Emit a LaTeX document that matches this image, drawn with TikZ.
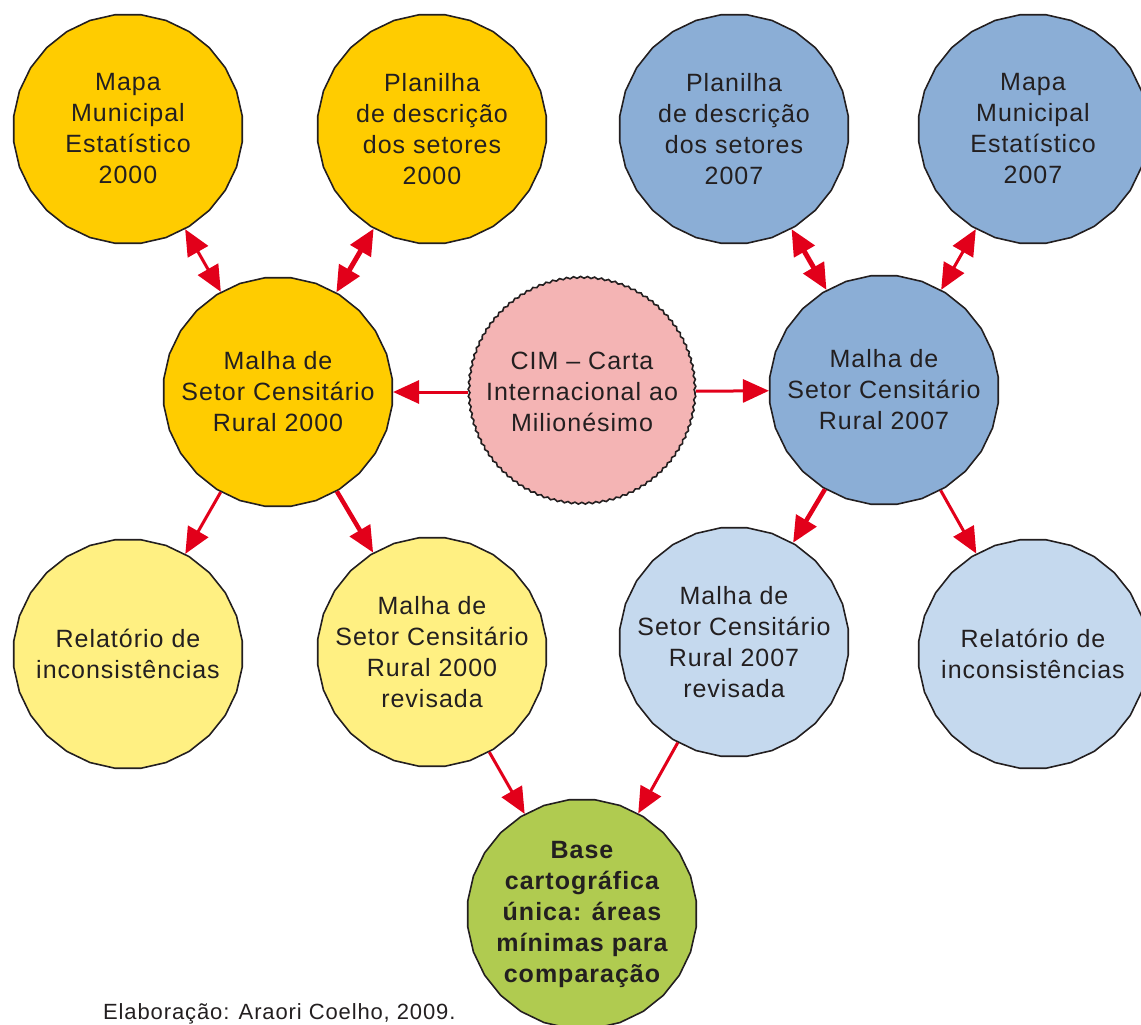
\documentclass[tikz,border=0pt]{standalone}
\usepackage{fontspec}
\setmainfont{Liberation Sans}[LetterSpace=4]
\usetikzlibrary{arrows.meta, shapes.geometric, decorations.pathmorphing}
\definecolor{ouro}{RGB}{255,204,0}
\definecolor{amarelo}{RGB}{255,240,130}
\definecolor{azul}{RGB}{139,174,214}
\definecolor{azulclaro}{RGB}{197,217,238}
\definecolor{rosa}{RGB}{244,180,180}
\definecolor{verde}{RGB}{176,203,80}
\definecolor{vermelho}{RGB}{226,0,26}
\definecolor{texto}{RGB}{35,31,32}

\tikzset{
    rotulo/.style={align=center, text=texto, font=\fontsize{25}{31}\selectfont},
    bola/.style={regular polygon, regular polygon sides=28, minimum size=230pt, inner sep=0pt,
        draw=texto, line width=1.6pt, label={[rotulo]center:#1}},
    ponta/.tip={Triangle[length=26pt,width=23pt]},
    seta/.style={draw=vermelho, line width=3pt, -ponta},
    dupla/.style={seta, ponta-ponta},
}

\begin{document}
\begin{tikzpicture}[x=1pt,y=-1pt]
        \useasboundingbox (0,0) rectangle (1141,1025);
        \node[bola={Mapa\\Municipal\\Estatístico\\2000}, fill=ouro] (mapaA) at (128,129) {};
        \node[bola={Planilha\\de descrição\\dos setores\\2000}, fill=ouro] (planA) at (432,129) {};
        \node[bola={Planilha\\de descrição\\dos setores\\2007}, fill=azul] (planB) at (734,129) {};
        \node[bola={Mapa\\Municipal\\Estatístico\\2007}, fill=azul] (mapaB) at (1033,129) {};
        \node[bola={Malha de\\Setor Censitário\\Rural 2000}, fill=ouro] (malhaA) at (278,392) {};
        \node[circle, minimum size=226pt, inner sep=0pt, draw=texto, line width=1.6pt, fill=rosa,
            decorate, decoration={snake, amplitude=0.9pt, segment length=7pt},
            label={[rotulo]center:CIM -- Carta\\Internacional ao\\Milionésimo}]
            (cim) at (582,392) {};
        \node[bola={Malha de\\Setor Censitário\\Rural 2007}, fill=azul] (malhaB) at (884,390) {};
        \node[bola={Relatório de\\inconsistências}, fill=amarelo] (relA) at (128,654) {};
        \node[bola={Malha de\\Setor Censitário\\Rural 2000\\revisada}, fill=amarelo] (revA) at (432,652) {};
        \node[bola={Malha de\\Setor Censitário\\Rural 2007\\revisada}, fill=azulclaro] (revB) at (734,642) {};
        \node[bola={Relatório de\\inconsistências}, fill=azulclaro] (relB) at (1033,654) {};
        \node[bola={\bfseries Base\\\bfseries cartográfica\\\bfseries única: áreas\\\bfseries mínimas para\\\bfseries comparação},
            fill=verde] (base) at (582,914) {};

        \draw[dupla] (mapaA) -- (malhaA);
        \draw[dupla, line width=5pt] (planA) -- (malhaA);
        \draw[dupla, line width=5pt] (planB) -- (malhaB);
        \draw[dupla] (mapaB) -- (malhaB);
        \draw[seta] (cim) -- (malhaA);
        \draw[seta] (cim) -- (malhaB);
        \draw[seta] (malhaA) -- (relA);
        \draw[seta, line width=4.5pt] (malhaA) -- (revA);
        \draw[seta, line width=4.5pt] (malhaB) -- (revB);
        \draw[seta] (malhaB) -- (relB);
        \draw[seta] (revA) -- (base);
        \draw[seta] (revB) -- (base);

        \node[anchor=base west, text=texto, inner sep=0pt, font=\fontsize{22}{26}\selectfont] (fonte) at (103,1019)
            {Elaboração: Araori Coelho, 2009.};
\end{tikzpicture}
\end{document}
